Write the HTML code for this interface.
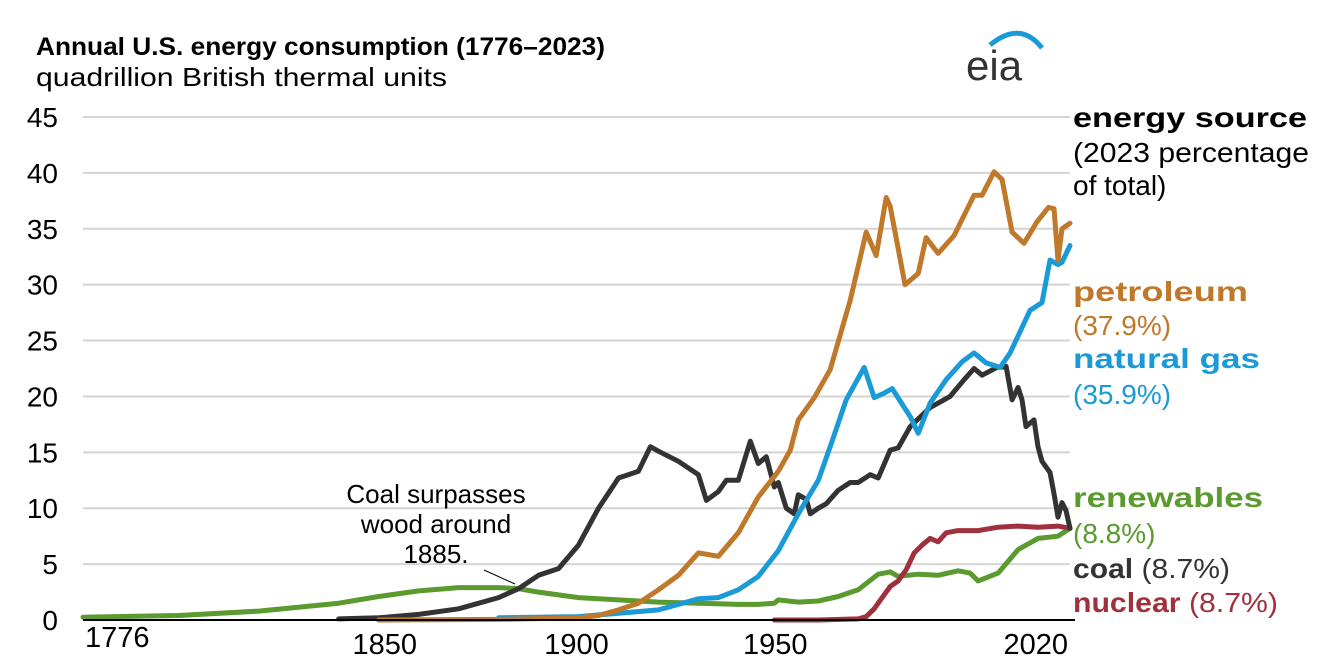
<!DOCTYPE html>
<html><head><meta charset="utf-8"><style>
body{margin:0;background:#fff;width:1332px;height:667px;overflow:hidden;font-family:"Liberation Sans",Arial,sans-serif}
svg text{font-family:"Liberation Sans",Arial,sans-serif}
</style></head><body>
<svg id="chart" width="1332" height="667" viewBox="0 0 1332 667">
<text x="36" y="55" font-size="25" font-weight="bold" fill="#000" textLength="569" lengthAdjust="spacingAndGlyphs">Annual U.S. energy consumption (1776–2023)</text>
<text x="36" y="86" font-size="26" fill="#000" textLength="411" lengthAdjust="spacingAndGlyphs">quadrillion British thermal units</text>
<g>
<path d="M990 45 Q1020 20 1042 48" stroke="#1a9ad6" stroke-width="5" fill="none"/>
<text x="966" y="80" font-size="42" fill="#333">eia</text>
</g>
<g id="grid"></g><g id="series"></g><g id="axes"></g>
<g font-size="26" fill="#000" text-anchor="middle">
<text x="436" y="503">Coal surpasses</text><text x="436" y="533">wood around</text><text x="436" y="563">1885.</text>
<line x1="484" y1="570" x2="515" y2="584" stroke="#000" stroke-width="1"/>
</g>
<g font-size="28">
<text x="1073" y="127" font-weight="bold" fill="#000" textLength="234" lengthAdjust="spacingAndGlyphs">energy source</text>
<text x="1073" y="162" fill="#000" textLength="236" lengthAdjust="spacingAndGlyphs">(2023 percentage</text>
<text x="1073" y="195" fill="#000">of total)</text>
<text x="1073" y="301" font-weight="bold" fill="#c0782a" textLength="175" lengthAdjust="spacingAndGlyphs">petroleum</text>
<text x="1073" y="335" fill="#c0782a">(37.9%)</text>
<text x="1073" y="368" font-weight="bold" fill="#1a9ad6" textLength="187" lengthAdjust="spacingAndGlyphs">natural gas</text>
<text x="1073" y="404" fill="#1a9ad6">(35.9%)</text>
<text x="1073" y="507" font-weight="bold" fill="#5a9a2e" textLength="190" lengthAdjust="spacingAndGlyphs">renewables</text>
<text x="1073" y="543" fill="#5a9a2e">(8.8%)</text>
<text x="1073" y="578" fill="#333" textLength="157" lengthAdjust="spacingAndGlyphs"><tspan font-weight="bold">coal</tspan> (8.7%)</text>
<text x="1073" y="612" fill="#a0303e" textLength="205" lengthAdjust="spacingAndGlyphs"><tspan font-weight="bold">nuclear</tspan> (8.7%)</text>
</g>
</svg>
<script>
const yTicks=[0,5,10,15,20,25,30,35,40,45];
const xTicks=[1776,1850,1900,1950,2020];
const petroleumYears=[1850,1880,1900,1905,1910,1915,1920,1925,1930,1935,1940,1945,1950,1953,1955,1959,1963,1968,1972,1974.5,1977,1978,1981.7,1985,1987,1990,1994,1999,2001,2004,2006,2008.5,2011.5,2014.7,2017.6,2019,2020,2021,2023];
const petroleumVals=[0,0.05,0.2,0.4,0.9,1.5,2.7,4,6,5.7,7.8,11,13.3,15.2,17.9,19.9,22.4,28.6,34.7,32.6,37.8,37,30,31,34.2,32.8,34.4,38,38,40.1,39.4,34.7,33.7,35.6,36.9,36.8,32.2,35,35.5];
const gasYears=[1880,1900,1910,1920,1930,1935,1940,1945,1950,1955,1960,1963,1967,1971.5,1974,1976.5,1978.5,1983,1985,1988,1992,1996,1999,2002,2005.5,2008,2013,2016,2018,2020,2021,2023];
const gasVals=[0.2,0.3,0.6,0.9,1.9,2,2.7,3.9,6.2,9.5,12.5,15.5,19.7,22.6,19.9,20.3,20.7,18.2,16.7,19.4,21.5,23.1,23.9,23,22.6,23.9,27.7,28.4,32.2,31.8,32,33.5];
const coalYears=[1840,1850,1860,1870,1880,1885,1890,1895,1900,1905,1910,1915,1918,1920,1925,1930,1932,1935,1937,1940,1943,1945,1947,1949,1950,1952,1954,1955,1957,1958,1960,1962,1965,1968,1970,1973,1975,1978,1980,1983,1988,1993,1996.5,1999,2001,2004.7,2007,2008.5,2010,2011,2012,2014,2015,2016,2018,2019,2020,2021,2022,2023];
const coalVals=[0.1,0.2,0.5,1,2,2.8,4,4.6,6.7,10,12.7,13.3,15.5,15.1,14.2,13,10.7,11.5,12.5,12.5,16,14,14.6,11.9,12.3,10,9.5,11.2,10.8,9.5,10,10.4,11.6,12.3,12.3,13,12.7,15.2,15.4,17.3,19,20,21.5,22.5,21.9,22.6,22.7,19.7,20.8,19.7,17.3,17.9,15.5,14.2,13.2,11.3,9.2,10.5,9.8,8.2];
const renewYears=[1776,1800,1820,1840,1850,1860,1870,1880,1885,1890,1900,1910,1920,1930,1940,1945,1949,1950,1955,1960,1965,1970,1975,1978,1980,1985,1990,1995,1998,2000,2005,2010,2015,2020,2023];
const renewVals=[0.25,0.4,0.8,1.5,2.1,2.6,2.9,2.9,2.8,2.5,2.0,1.8,1.6,1.5,1.4,1.4,1.5,1.8,1.6,1.7,2.1,2.7,4.1,4.3,3.9,4.1,4.0,4.4,4.2,3.5,4.2,6.3,7.3,7.5,8.2];
const nuclearYears=[1949,1960,1970,1972,1974,1976,1978,1980,1982,1984,1986,1988,1990,1992,1995,2000,2005,2010,2015,2020,2023];
const nuclearVals=[0,0,0.1,0.3,1,2,3,3.5,4.5,6,6.7,7.3,7,7.8,8,8,8.3,8.4,8.3,8.4,8.2];
const x0=83,x1=1070,yb=620,yt=117;
const X=y=>x0+(y-1776)*(x1-x0)/(2023-1776);
const Y=v=>yb-v*(yb-yt)/45;
const NS="http://www.w3.org/2000/svg";
function mk(t,p,a){const e=document.createElementNS(NS,t);for(const k in a)e.setAttribute(k,a[k]);p.appendChild(e);return e;}
const grid=document.getElementById('grid'),axes=document.getElementById('axes'),ser=document.getElementById('series');
yTicks.forEach(v=>{
 if(v>0){const g=mk('line',grid,{x1:x0,x2:x1,y1:Y(v),y2:Y(v),stroke:'#d4d4d4','stroke-width':2});
 
 }
 const t=mk('text',axes,{x:58,y:Y(v)+10,'font-size':28,'text-anchor':'end',fill:'#000'});t.textContent=v;
 
 
});
const ax=mk('line',axes,{x1:x0,x2:x1+5,y1:yb,y2:yb,stroke:'#000','stroke-width':2});


const xOff=[0,6,-2,-3,0];
xTicks.forEach((yr,i)=>{
 const anc=i==0?'start':(i==xTicks.length-1?'end':'middle');
 const t=mk('text',axes,{x:i==xTicks.length-1?X(2023)-2:X(yr)+xOff[i]+(i==0?2:0),y:i==0?647:654,'font-size':29,'text-anchor':anc,fill:'#000'});t.textContent=yr;
 
 
});
function line(ys,vs,col,name){
 const d=ys.map((y,i)=>(i?'L':'M')+X(y).toFixed(1)+' '+Y(vs[i]).toFixed(1)).join(' ');
 const p=mk('path',ser,{d:d,fill:'none',stroke:col,'stroke-width':5,'stroke-linejoin':'round','stroke-linecap':'round'});
 
 
}
line(renewYears,renewVals,'#5a9a2e','renewables-line');
line(nuclearYears,nuclearVals,'#a0303e','nuclear-line');
line(coalYears,coalVals,'#333333','coal-line');
line(gasYears,gasVals,'#1a9ad6','natural-gas-line');
line(petroleumYears,petroleumVals,'#c0782a','petroleum-line');
</script>
</body></html>
